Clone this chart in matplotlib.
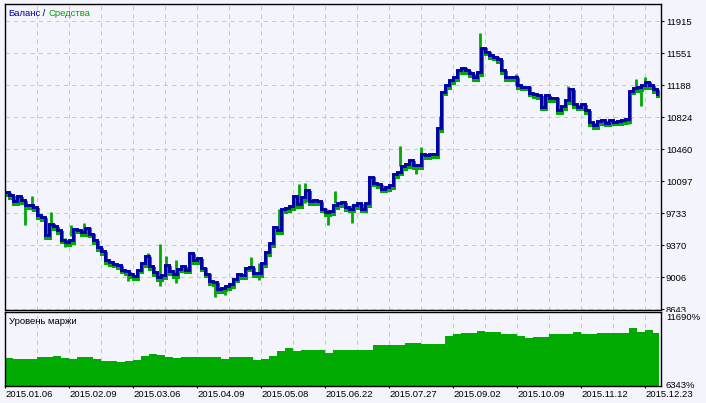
import numpy as np
import matplotlib
matplotlib.use("Agg")
import matplotlib.pyplot as plt
from matplotlib.transforms import offset_copy, Bbox, TransformedBbox

plt.rcParams['font.family'] = ['Liberation Sans', 'DejaVu Sans']

# balance curve, one value per 4 px step of the tester chart
balance = [9975, 9938, 9870, 9927, 9881, 9824, 9824, 9802, 9711, 9691,
           9483, 9616, 9586, 9540, 9435, 9407, 9427, 9560, 9548, 9521,
           9571, 9503, 9427, 9351, 9305, 9199, 9180, 9162, 9143, 9094,
           9078, 9040, 9018, 9094, 9165, 9245, 9131, 9063, 9006, 9029,
           9143, 9078, 9040, 9103, 9131, 9094, 9282, 9199, 9222, 9116,
           9048, 8964, 8953, 8870, 8889, 8907, 8927, 8991, 9040, 9029,
           9116, 9120, 9052, 9055, 9169, 9290, 9393, 9574, 9540, 9779,
           9790, 9813, 9927, 9836, 9915, 9995, 9873, 9881, 9870, 9787,
           9745, 9756, 9824, 9850, 9858, 9805, 9787, 9824, 9850, 9787,
           9850, 10146, 10078, 10063, 10014, 10032, 10052, 10177, 10203, 10267,
           10290, 10336, 10279, 10279, 10412, 10392, 10404, 10404, 10696, 11112,
           11188, 11245, 11275, 11358, 11384, 11358, 11321, 11279, 11336, 11614,
           11566, 11529, 11509, 11480, 11358, 11275, 11275, 11275, 11188, 11169,
           11169, 11100, 11082, 11074, 10941, 11074, 11037, 11044, 10904, 10949,
           11017, 11139, 10972, 10941, 10972, 10904, 10767, 10733, 10779, 10790,
           10759, 10790, 10773, 10779, 10790, 10802, 11123, 11154, 11162, 11188,
           11225, 11188, 11139, 11088]

# equity excursions (position in balance steps, low, high)
spike_pos = [5.0, 6.75, 10.0, 11.5, 15.0, 16.5, 19.75, 30.75, 35.75, 38.75,
             40.25, 42.75, 52.5, 55.0, 61.5, 63.5, 68.5, 73.5, 75.0, 80.75,
             82.5, 86.75, 98.75, 102.75, 104.0, 108.75, 118.75, 127.75, 134.0, 140.75,
             156.0, 157.75, 159.0, 160.0]
spike_lo = [9597, 9767, 9438, 9563, 9347, 9475, 9540, 8964, 9143, 8915,
            9063, 8938, 8782, 8802, 9116, 8972, 9521, 9915, 9850, 9597,
            9850, 9623, 10267, 10177, 10336, 10657, 11336, 11188, 10915, 11017,
            10745, 11154, 10953, 11188]
spike_hi = [9881, 9927, 9586, 9745, 9450, 9597, 9623, 9040, 9282, 9381,
            9245, 9199, 8930, 8907, 9237, 9169, 9779, 10071, 10078, 9756,
            9983, 9824, 10495, 10279, 10483, 10834, 11775, 11313, 11074, 11177,
            11123, 11253, 11188, 11282]

# margin level in %, one value per 8 px
margin = [8345, 8272, 8272, 8272, 8417, 8417, 8511, 8345, 8272, 8460,
          8460, 8272, 8128, 8128, 8077, 8128, 8222, 8511, 8655, 8583,
          8460, 8366, 8417, 8460, 8460, 8460, 8417, 8272, 8417, 8417,
          8417, 8222, 8272, 8511, 8822, 9067, 8822, 8894, 8894, 8894,
          8706, 8894, 8894, 8894, 8894, 8894, 9255, 9255, 9255, 9255,
          9429, 9429, 9378, 9378, 9378, 9956, 10101, 10151, 10151, 10267,
          10223, 10223, 10079, 10079, 9956, 9761, 9833, 9833, 10050, 10050,
          10050, 10194, 10079, 10079, 10151, 10151, 10151, 10151, 10512, 10194,
          10339, 10151]

y_ticks = [8643, 9006, 9370, 9733, 10097, 10460, 10824, 11188, 11551, 11915]
date_labels = ['2015.01.06', '2015.02.09', '2015.03.06', '2015.04.09', '2015.05.08',
               '2015.06.22', '2015.07.27', '2015.09.02', '2015.10.09', '2015.11.12',
               '2015.12.23']
margin_min, margin_max = 6343, 11690

bg = '#F4F4FC'
blue = '#0000A8'
green = '#00A800'
fs = 6.8

fig = plt.figure(figsize=(7.06, 4.03), dpi=100, facecolor=bg)
ax = fig.add_axes([5 / 706, 93.5 / 403, 656 / 706, 305.5 / 403], facecolor=bg)
ax2 = fig.add_axes([5 / 706, 17 / 403, 656 / 706, 74.5 / 403], facecolor=bg)

x = np.arange(len(balance))

# equity underneath, shifted a little like the tester draws it
green_tr = offset_copy(ax.transData, fig=fig, x=1.0, y=-2.5, units='dots')
ax.plot(x, balance, drawstyle='steps-post', color=green, lw=2.9,
        transform=green_tr, zorder=2, solid_joinstyle='miter')
ax.vlines(spike_pos, spike_lo, spike_hi, color=green, lw=2.0, zorder=2)
ax.plot(x, balance, drawstyle='steps-post', color=blue, lw=2.1, zorder=3,
        solid_joinstyle='miter')

ax.set_xlim(0, 164)
ax.set_ylim(8643, 12108)
ax.set_yticks(y_ticks)
ax.set_yticklabels([str(v) for v in y_ticks], fontsize=fs)
ax.yaxis.tick_right()
ax.tick_params(axis='y', length=2.2, width=0.8, pad=1.4, colors='black')
ax.set_xticks(np.arange(0, 165, 8))
ax.tick_params(axis='x', length=0, labelbottom=False)
ax.grid(True, color='#C8C8D0', lw=0.75, linestyle=(0, (4, 4)), zorder=1)

# margin level panel
mx = np.append(np.arange(len(margin)) * 2, len(balance) - 0.5)
my = np.append(margin, margin[-1])
ax2.fill_between(mx, margin_min, my, step='post', color='#00AA00', lw=0, zorder=2)
ax2.set_xlim(0, 164)
ax2.set_ylim(margin_min, margin_max)
ax2.set_yticks([])
ax2.set_xticks(np.arange(0, 161, 16))
ax2.set_xticklabels(date_labels, fontsize=fs, ha='left')
ax2.set_xticks(np.arange(8, 165, 16), minor=True)
ax2.tick_params(axis='x', which='major', length=1.6, width=0.8, pad=1.0)
ax2.tick_params(axis='x', which='minor', length=0)
ax2.grid(True, axis='x', which='both', color='#C8C8D0', lw=0.75,
         linestyle=(0, (4, 4)), zorder=1)
ax2.text(0.006, 0.93, 'Уровень маржи', transform=ax2.transAxes, fontsize=fs, va='top')
ax2.annotate(f'{margin_max}%', xy=(1, 1), xycoords='axes fraction', xytext=(3.5, -1),
             textcoords='offset points', fontsize=fs, va='top', ha='left')
ax2.annotate(f'{margin_min}%', xy=(1, 0), xycoords='axes fraction', xytext=(3.5, 0),
             textcoords='offset points', fontsize=fs, va='center', ha='left')

for a in (ax, ax2):
    for s in a.spines.values():
        s.set_linewidth(1.0)
        s.set_color('black')
    a.set_axisbelow(True)

# legend words placed one after another
fig.canvas.draw()
renderer = fig.canvas.get_renderer()
px = 8
for word, col in [('Баланс', blue), (' / ', 'black'), ('Средства', green)]:
    t = fig.text(px / 706, 1 - 8.5 / 403, word, color=col, fontsize=fs, va='top')
    px = t.get_window_extent(renderer).x1

# lowest price label is partly hidden behind the margin panel, as in the tester
clip = TransformedBbox(Bbox([[0, 91.5 / 403], [1, 1]]), fig.transFigure)
for lab in ax.get_yticklabels():
    lab.set_clip_box(clip)
    lab.set_clip_on(True)

fig.savefig('out.png', dpi=100, facecolor=bg)
